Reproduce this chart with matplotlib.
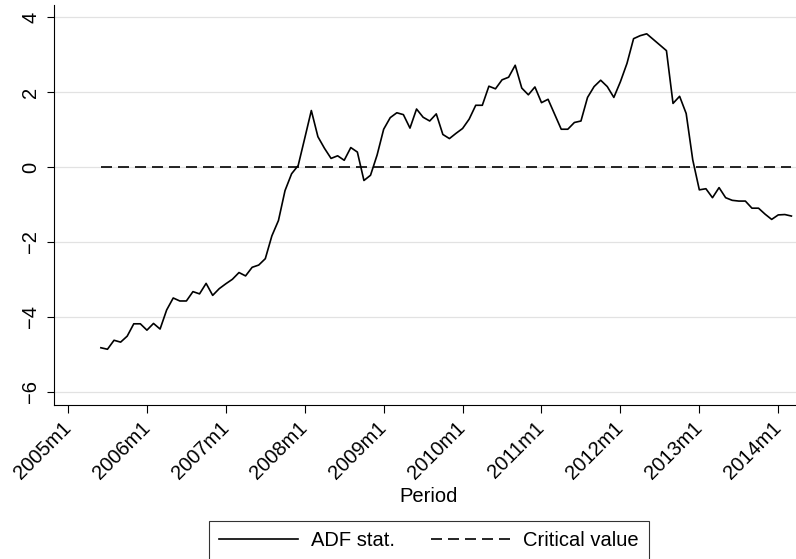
import matplotlib
matplotlib.use('Agg')
import matplotlib.pyplot as plt
import numpy as np
import pandas as pd

plt.rcParams['font.family'] = ['Liberation Sans', 'DejaVu Sans']
plt.rcParams['font.size'] = 14.5

# monthly ADF statistic, 2005m6 .. 2014m3
start_month = '2005-06'
adf_stat = [
    -4.83, -4.87, -4.63, -4.68, -4.52, -4.19, -4.19, -4.36, -4.18, -4.33,
    -3.82, -3.50, -3.58, -3.58, -3.33, -3.39, -3.11, -3.43, -3.25, -3.12,
    -3.00, -2.82, -2.91, -2.68, -2.62, -2.45, -1.84, -1.43, -0.63, -0.18,
    0.04, 0.77, 1.51, 0.81, 0.50, 0.23, 0.30, 0.18, 0.52, 0.40,
    -0.36, -0.22, 0.32, 1.01, 1.32, 1.45, 1.40, 1.04, 1.55, 1.33,
    1.23, 1.42, 0.87, 0.76, 0.90, 1.03, 1.28, 1.65, 1.65, 2.16,
    2.09, 2.33, 2.40, 2.72, 2.11, 1.93, 2.14, 1.72, 1.81, 1.41,
    1.01, 1.01, 1.19, 1.23, 1.86, 2.15, 2.32, 2.15, 1.86, 2.28,
    2.77, 3.43, 3.51, 3.56, 3.41, 3.26, 3.11, 1.70, 1.89, 1.43,
    0.19, -0.61, -0.58, -0.82, -0.55, -0.82, -0.89, -0.91, -0.91, -1.10,
    -1.10, -1.26, -1.40, -1.28, -1.27, -1.31,
]
critical_value = 0.0

tick_years = [2005, 2006, 2007, 2008, 2009, 2010, 2011, 2012, 2013, 2014]
tick_labels = ['2005m1', '2006m1', '2007m1', '2008m1', '2009m1',
               '2010m1', '2011m1', '2012m1', '2013m1', '2014m1']
y_ticks = [-6, -4, -2, 0, 2, 4]

# Stata-style monthly index: months since 2005m1
periods = pd.period_range(start_month, periods=len(adf_stat), freq='M')
t = np.asarray((periods.year - 2005) * 12 + (periods.month - 1))
tick_pos = [(y - 2005) * 12 for y in tick_years]

fig = plt.figure(figsize=(7.96, 5.59), dpi=100)
ax = fig.add_axes([54/796, 154/559, 742/796, 400/559])

ax.plot(t, adf_stat, color='black', lw=1.2, label='ADF stat.')
ax.plot(t, np.full(len(t), critical_value), color='black', lw=1.2,
        linestyle=(0, (6.6, 3.6)), label='Critical value')

ax.set_xlim(-2.13, 110.7)
ax.set_ylim(-6.36, 4.33)

ax.set_yticks(y_ticks)
ax.set_yticklabels([str(v).replace('-', '\u2212') for v in y_ticks],
                   rotation=90, va='center')
ax.set_xticks(tick_pos)
ax.set_xticklabels(tick_labels, rotation=45, ha='right', va='center',
                   rotation_mode='anchor')
ax.tick_params(axis='y', length=5, width=0.8, pad=5)
ax.tick_params(axis='x', length=5.5, width=0.8, pad=9)

ax.grid(axis='y', color='#e2e2e2', lw=0.9)
ax.set_axisbelow(True)
for s in ['top', 'right']:
    ax.spines[s].set_visible(False)
for s in ['left', 'bottom']:
    ax.spines[s].set_linewidth(0.8)

ax.set_xlabel('Period', va='center')
ax.xaxis.set_label_coords(0.505, -0.23)

leg = ax.legend(loc='upper center', ncol=2, bbox_to_anchor=(429/796, 1 - 521/559),
                bbox_transform=fig.transFigure, frameon=True, fancybox=False,
                edgecolor='black', handlelength=3.9, handletextpad=0.65,
                columnspacing=1.8, borderpad=0.5, borderaxespad=0)
leg.get_frame().set_linewidth(0.8)

plt.savefig('out.png', dpi=100)
